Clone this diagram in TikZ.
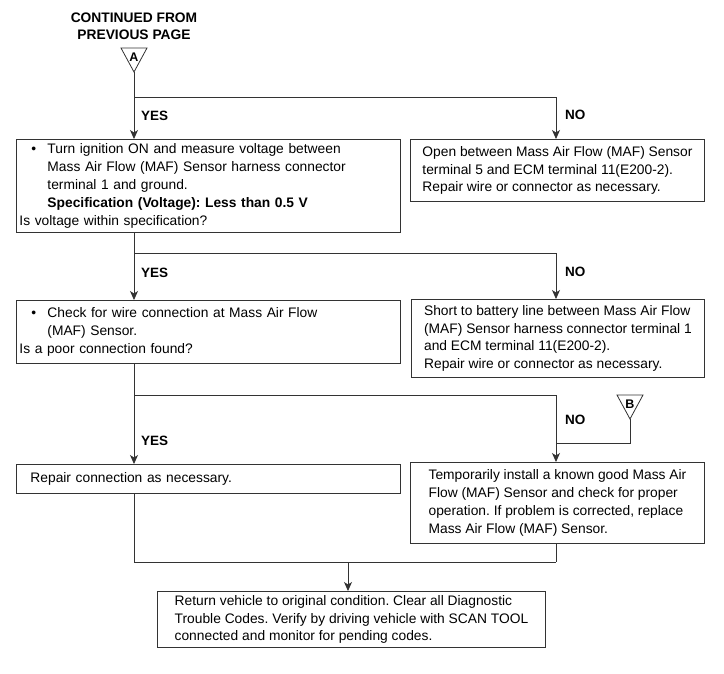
\documentclass[tikz,border=0pt]{standalone}
\usepackage{fontspec}
\setmainfont{Liberation Sans}
\usetikzlibrary{arrows.meta,calc}
\definecolor{linec}{HTML}{333333}
\frenchspacing
\begin{document}
\begin{tikzpicture}[x=1pt,y=-1pt,
  every node/.style={font=\fontsize{13.8}{17.8}\selectfont},
  box/.style={draw=linec,line width=0.9pt,rectangle,anchor=north west,align=left,inner ysep=2pt},
  lbl/.style={font=\fontsize{13.5}{16}\selectfont\bfseries,anchor=west,inner sep=0pt},
  conn/.style={draw=linec,line width=0.8pt},
  arr/.style={conn,-{Stealth[length=9pt,width=8pt,inset=2.5pt]}}]
\useasboundingbox (0,0) rectangle (724,674);
\coordinate (cA) at (134,0);
\coordinate (cB) at (556,0);

% header
\node[font=\fontsize{13.8}{17}\selectfont\bfseries,align=center] (hdr) at (134,26) {CONTINUED FROM\\PREVIOUS PAGE};
\draw[conn] (121,48) -- (147,48) -- (134,72) -- cycle;
\coordinate (A) at (134,72);
\node[font=\fontsize{12.5}{14}\selectfont\bfseries,inner sep=0pt] (Alab) at (134,57.5) {A};

% boxes
\node[box,minimum width=384pt,minimum height=93pt,text width=378pt,inner xsep=3pt] (b1) at (16,139)
 {\makebox[28pt][l]{\hspace*{12pt}•}Turn ignition ON and measure voltage between\\
  \hspace*{28pt}Mass Air Flow (MAF) Sensor harness connector\\
  \hspace*{28pt}terminal 1 and ground.\\
  \hspace*{28pt}\textbf{Specification (Voltage): Less than 0.5 V}\\
  Is voltage within specification?};
\node[box,minimum width=294pt,minimum height=62pt] (b2) at (410,139)
 {Open between Mass Air Flow (MAF) Sensor\\terminal 5 and ECM terminal 11(E200-2).\\Repair wire or connector as necessary.};
\node[box,minimum width=384pt,minimum height=63pt,text width=378pt,inner xsep=3pt] (b3) at (16,300)
 {\makebox[28pt][l]{\hspace*{12pt}•}Check for wire connection at Mass Air Flow\\
  \hspace*{28pt}(MAF) Sensor.\\
  Is a poor connection found?};
\node[box,minimum width=293pt,minimum height=78pt] (b4) at (411,299)
 {Short to battery line between Mass Air Flow\\(MAF) Sensor harness connector terminal 1\\and ECM terminal 11(E200-2).\\Repair wire or connector as necessary.};
\node[box,minimum width=384pt,minimum height=29pt,text width=356pt,inner xsep=14pt] (b5) at (16,464)
 {Repair connection as necessary.};
\node[box,minimum width=294pt,minimum height=81pt] (b6) at (410,462)
 {Temporarily install a known good Mass Air\\Flow (MAF) Sensor and check for proper\\operation. If problem is corrected, replace\\Mass Air Flow (MAF) Sensor.};
\node[box,minimum width=388pt,minimum height=56pt] (b7) at (157,591)
 {Return vehicle to original condition. Clear all Diagnostic\\Trouble Codes. Verify by driving vehicle with SCAN TOOL\\connected and monitor for pending codes.};

% triangle B
\draw[conn] (617,395) -- (643,395) -- (630,419) -- cycle;
\coordinate (B) at (630,419);
\node[font=\fontsize{12.5}{14}\selectfont\bfseries,inner sep=0pt] (Blab) at (630,404.5) {B};

% junction coordinates
\coordinate (j1) at (134,97);
\coordinate (j2) at (134,253);
\coordinate (j3) at (134,395);
\coordinate (j4) at (556,443);
\coordinate (j5) at (134,562);
\coordinate (j6) at (556,562);
\coordinate (j7) at (348,562);

% connectors
\draw[arr] (A) -- (b1.north -| cA);
\draw[arr] (j1) -| (b2.north -| cB);
\draw[arr] (b1.south -| cA) -- (b3.north -| cA);
\draw[arr] (j2) -| (b4.north -| cB);
\draw[arr] (b3.south -| cA) -- (b5.north -| cA);
\draw[arr] (j3) -| (b6.north -| cB);
\draw[conn] (B) |- (j4);
\draw[conn] (b5.south -| cA) -- (j5) -- (j6);
\draw[conn] (b6.south -| cB) -- (j6);
\draw[arr] (j7) -- (b7.north -| j7);

% labels
\node[lbl] (y1) at (141,116) {YES};
\node[lbl] (n1) at (565,115) {NO};
\node[lbl] (y2) at (141,273) {YES};
\node[lbl] (n2) at (565,272) {NO};
\node[lbl] (y3) at (141,441) {YES};
\node[lbl] (n3) at (565,420) {NO};
\end{tikzpicture}
\end{document}
